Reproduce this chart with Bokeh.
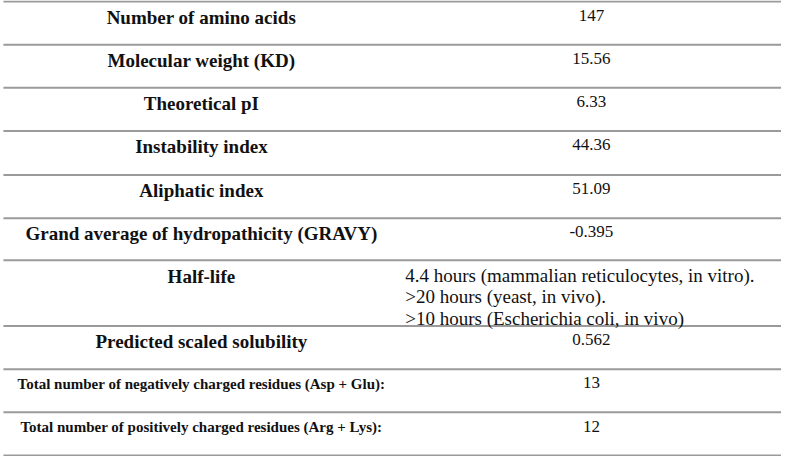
from bokeh.plotting import figure
from bokeh.models import Range1d
from bokeh.core.properties import value
from bokeh.embed import file_html
from bokeh.resources import INLINE

labels = [
    "Number of amino acids",
    "Molecular weight (KD)",
    "Theoretical pI",
    "Instability index",
    "Aliphatic index",
    "Grand average of hydropathicity (GRAVY)",
    "Half-life",
    "Predicted scaled solubility",
    "Total number of negatively charged residues (Asp + Glu):",
    "Total number of positively charged residues (Arg + Lys):",
]
values = [
    "147",
    "15.56",
    "6.33",
    "44.36",
    "51.09",
    "-0.395",
    "4.4 hours (mammalian reticulocytes, in vitro).\n>20 hours (yeast, in vivo).\n>10 hours (Escherichia coli, in vivo)",
    "0.562",
    "13",
    "12",
]

# layout (pixel-like coordinates of the table)
row_lines = [4, 48, 92, 136, 181, 225, 268, 335, 379, 423, 467]
label_x = 205
value_x = 603
multi_x = 413
small_rows = {8, 9}

p = figure(width=781, height=456, output_backend="svg", toolbar_location=None,
           x_range=Range1d(0, 797), y_range=Range1d(468, 3))
p.axis.visible = False
p.grid.visible = False
p.outline_line_color = None
p.min_border = 0
p.background_fill_color = "white"
p.border_fill_color = "white"

# horizontal rules
p.segment(x0=[3] * len(row_lines), y0=row_lines, x1=[797] * len(row_lines), y1=row_lines,
          line_color="#9a9a9a", line_width=2)

lx, ly, lt = [], [], []
sx, sy, st = [], [], []
for i, lab in enumerate(labels):
    top = row_lines[i]
    if i in small_rows:
        sx.append(label_x); sy.append(top + 15); st.append(lab)
    else:
        lx.append(label_x); ly.append(top + 16); lt.append(lab)

p.text(x=lx, y=ly, text=lt, text_font=value("Liberation Serif"), text_font_style="bold",
       text_font_size="19px", text_align="center", text_baseline="middle", text_color="#111111")
p.text(x=sx, y=sy, text=st, text_font=value("Liberation Serif"), text_font_style="bold",
       text_font_size="15px", text_align="center", text_baseline="middle", text_color="#111111")

vx, vy, vt = [], [], []
mx, my, mt = [], [], []
for i, v in enumerate(values):
    top = row_lines[i]
    parts = v.split("\n")
    if len(parts) > 1:
        for j, part in enumerate(parts):
            mx.append(multi_x); my.append(top + 15 + 22 * j); mt.append(part)
    else:
        vx.append(value_x); vy.append(top + 14); vt.append(v)

p.text(x=vx, y=vy, text=vt, text_font=value("Liberation Serif"), text_font_size="17px",
       text_align="center", text_baseline="middle", text_color="#111111")
p.text(x=mx, y=my, text=mt, text_font=value("Liberation Serif"), text_font_size="19px",
       text_align="left", text_baseline="middle", text_color="#111111")

open("out.html", "w").write(file_html(p, INLINE))
